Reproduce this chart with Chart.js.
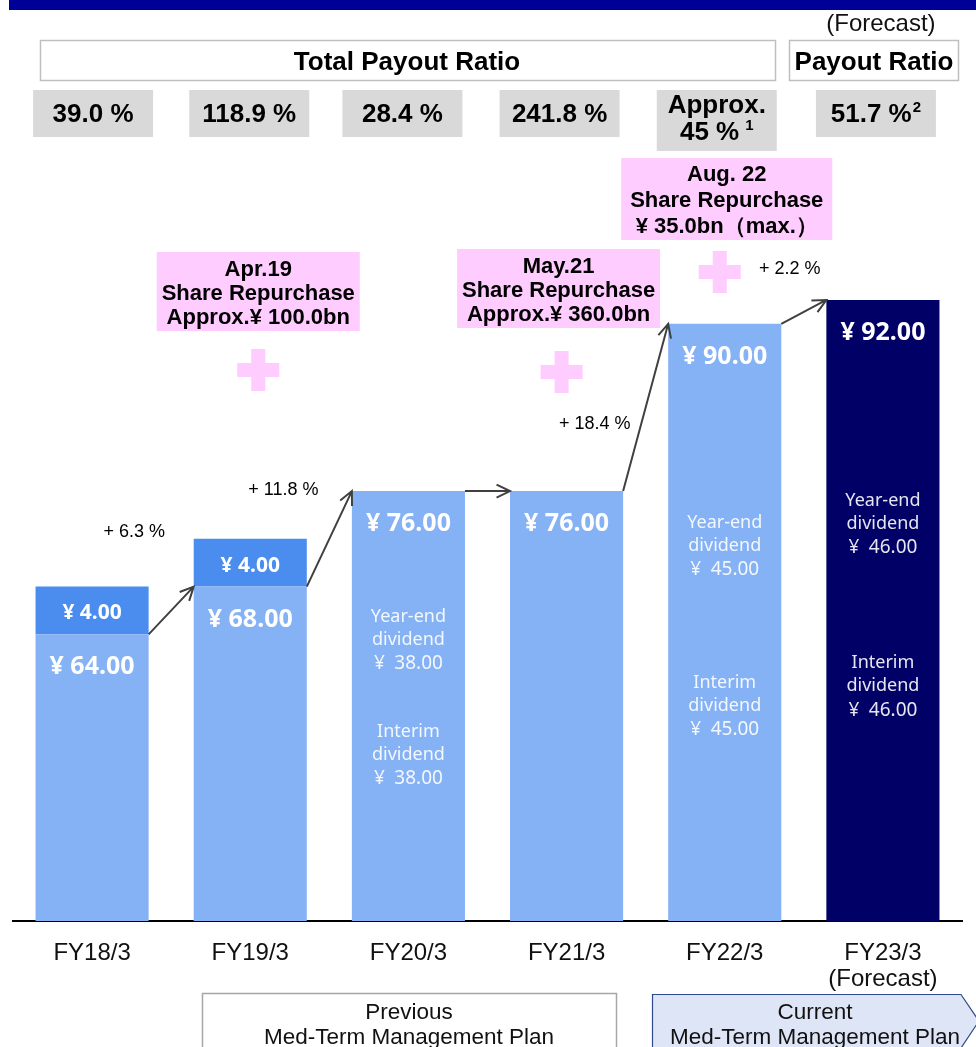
<!DOCTYPE html>
<html>
<head>
<meta charset="utf-8">
<script src="https://cdn.jsdelivr.net/npm/chart.js@4.4.0/dist/chart.umd.min.js"></script>
<style>
html, body { margin: 0; padding: 0; background: #fff; overflow: hidden; }
canvas { display: block; }
</style>
</head>
<body>
<canvas id="my_Chart" width="976" height="1047"></canvas>
<script>
// data
var Labels = ['FY18/3', 'FY19/3', 'FY20/3', 'FY21/3', 'FY22/3', ['FY23/3', '(Forecast)']];
var Ordinary = [64, 68, 76, 76, 90, 92];
var Commemorative = [4, 4, 0, 0, 0, 0];
var YearEnd = [null, null, 38, null, 45, 46];
var Interim = [null, null, 38, null, 45, 46];
var PayoutRatio = [39.0, 118.9, 28.4, 241.8, 45, 51.7];
var Growth = [6.3, 11.8, 0, 18.4, 2.2];
var RepurchaseYear = [1, 3, 4];
var RepurchaseDate = ['Apr.19', 'May.21', 'Aug. 22'];
var RepurchaseAmount = ['Approx.\u00a5 100.0bn', 'Approx.\u00a5 360.0bn', '\u00a5 35.0bn\uff08max.\uff09'];

// colours
var LIGHT = '#85B1F5';
var MID = '#4A8DEE';
var NAVY = '#000066';
var PINK = '#FFCCFF';
var barColors = [LIGHT, LIGHT, LIGHT, LIGHT, LIGHT, NAVY];

var ARIAL = "'Liberation Sans', Arial, sans-serif";
var ROUND = "'Noto Sans', 'Liberation Sans', sans-serif";

// where the annotations sit (layout, not data)
var ratioShift = [1, -1, -6, -7, -8, -7];
var yearEndAt = [null, null, 63.8, null, 71.7, 73.5];
var interimAt = [null, null, 54.2, null, 58.3, 59.9];
var growthOffset = [[-37, -80], [-46, -51], null, [-51, 15], [-14, -45]];
var repBoxes = [
	{dx: 8, top: 252, w: 203, h: 79, plusDx: 8, plusY: 370},
	{dx: -8, top: 249, w: 203, h: 79, plusDx: -5, plusY: 372},
	{dx: 2, top: 158, w: 211, h: 82, plusDx: -5, plusY: 272}
];

function txt(ctx, s, x, y, font, color, align) {
	ctx.font = font;
	ctx.fillStyle = color || '#000';
	ctx.textAlign = align || 'center';
	ctx.textBaseline = 'middle';
	// fonts sit a bit high with a middle baseline
	ctx.fillText(s, x, y + (font.indexOf('Noto') >= 0 ? 3 : 2));
}

// text followed by a small raised footnote number, centred as a whole
function supTxt(ctx, s, sup, gap, x, y) {
	var big = 'bold 26px ' + ARIAL, small = 'bold 15px ' + ARIAL;
	ctx.font = big;
	var w1 = ctx.measureText(s).width;
	ctx.font = small;
	var w2 = ctx.measureText(sup).width;
	var left = x - (w1 + gap + w2) / 2;
	txt(ctx, s, left, y, big, '#000', 'left');
	txt(ctx, sup, left + w1 + gap, y - 7, small, '#000', 'left');
}

function arrow(ctx, x1, y1, x2, y2) {
	var a = Math.atan2(y2 - y1, x2 - x1), L = 15, sp = 0.45;
	ctx.strokeStyle = '#404040';
	ctx.lineWidth = 2;
	ctx.beginPath();
	ctx.moveTo(x1, y1);
	ctx.lineTo(x2, y2);
	ctx.moveTo(x2 - L * Math.cos(a - sp), y2 - L * Math.sin(a - sp));
	ctx.lineTo(x2, y2);
	ctx.lineTo(x2 - L * Math.cos(a + sp), y2 - L * Math.sin(a + sp));
	ctx.stroke();
}

function plus(ctx, x, y) {
	ctx.fillStyle = PINK;
	ctx.fillRect(x - 21, y - 7, 42, 14);
	ctx.fillRect(x - 7, y - 21, 14, 42);
}

var annotations = {
	id: 'annotations',
	afterDatasetsDraw: function(chart) {
		var ctx = chart.ctx;
		var xs = chart.scales.x, ys = chart.scales.y;
		var base = chart.getDatasetMeta(0).data;
		var extra = chart.getDatasetMeta(1).data;
		var cx = Labels.map(function(l, i) { return xs.getPixelForValue(i); });
		ctx.save();

		// header band
		ctx.fillStyle = '#000099';
		ctx.fillRect(9, 0, 967, 10);

		txt(ctx, '(Forecast)', cx[5] - 2, 22, '24px ' + ARIAL, '#111');

		ctx.strokeStyle = '#BFBFBF';
		ctx.lineWidth = 1.5;
		ctx.strokeRect(40.5, 40.5, 735, 40);
		ctx.strokeRect(789.5, 40.5, 169, 40);
		txt(ctx, 'Total Payout Ratio', 407, 61, 'bold 26px ' + ARIAL);
		txt(ctx, 'Payout Ratio', 874, 61, 'bold 26px ' + ARIAL);

		// payout ratio boxes
		PayoutRatio.forEach(function(v, i) {
			var x = cx[i] + ratioShift[i];
			var h = i === 4 ? 61 : 47;
			ctx.fillStyle = '#D9D9D9';
			ctx.fillRect(x - 60, 90, 120, h);
			if (i === 4) {
				txt(ctx, 'Approx.', x, 104, 'bold 26px ' + ARIAL);
				supTxt(ctx, v + ' %', '1', 6, x, 131);
			} else if (i === 5) {
				supTxt(ctx, v.toFixed(1) + ' %', '2', 1, x, 113);
			} else {
				txt(ctx, v.toFixed(1) + ' %', x, 113, 'bold 26px ' + ARIAL);
			}
		});

		// share repurchase boxes
		RepurchaseYear.forEach(function(yi, k) {
			var b = repBoxes[k];
			var x = cx[yi] + b.dx;
			ctx.fillStyle = PINK;
			ctx.fillRect(x - b.w / 2, b.top, b.w, b.h);
			var mid = b.top + b.h / 2, step = k === 2 ? 26 : 24;
			var f = 'bold 22px ' + ARIAL;
			txt(ctx, RepurchaseDate[k], x, mid - step, f);
			txt(ctx, 'Share Repurchase', x, mid, f);
			txt(ctx, RepurchaseAmount[k], x, mid + step, f);
			plus(ctx, cx[yi] + b.plusDx, b.plusY);
		});

		// arrows and growth rates between ordinary dividend tops
		for (var i = 0; i < base.length - 1; i++) {
			var a = base[i], b2 = base[i + 1];
			var x1 = a.x + a.width / 2, x2 = b2.x - b2.width / 2;
			arrow(ctx, x1, a.y, x2, b2.y);
			if (Growth[i] > 0 && growthOffset[i]) {
				var mx = (x1 + x2) / 2, my = (a.y + b2.y) / 2;
				txt(ctx, '+ ' + Growth[i].toFixed(1) + ' %', mx + growthOffset[i][0], my + growthOffset[i][1], '18px ' + ARIAL, '#000');
			}
		}

		// labels inside bars
		base.forEach(function(el, i) {
			txt(ctx, '\u00a5 ' + Ordinary[i].toFixed(2), el.x, el.y + 30, 'bold 25px ' + ROUND, '#fff');
			if (Commemorative[i] > 0) {
				var e = extra[i];
				txt(ctx, '\u00a5 ' + Commemorative[i].toFixed(2), e.x, (e.y + e.base) / 2, 'bold 21px ' + ROUND, '#fff');
			}
			var sub = '18px ' + ROUND, num = '19px ' + ROUND, col = 'rgba(255,255,255,0.9)';
			if (YearEnd[i] != null) {
				var y1 = ys.getPixelForValue(yearEndAt[i]);
				txt(ctx, 'Year-end', el.x, y1 - 23, sub, col);
				txt(ctx, 'dividend', el.x, y1, sub, col);
				txt(ctx, '\u00a5\u2002' + YearEnd[i].toFixed(2), el.x, y1 + 24, num, col);
			}
			if (Interim[i] != null) {
				var y2 = ys.getPixelForValue(interimAt[i]);
				txt(ctx, 'Interim', el.x, y2 - 23, sub, col);
				txt(ctx, 'dividend', el.x, y2, sub, col);
				txt(ctx, '\u00a5\u2002' + Interim[i].toFixed(2), el.x, y2 + 24, num, col);
			}
		});

		// management plan boxes
		ctx.strokeStyle = '#A6A6A6';
		ctx.lineWidth = 1.5;
		ctx.strokeRect(202.5, 993.5, 414, 70);
		txt(ctx, 'Previous', 409, 1011, '22.5px ' + ARIAL, '#111');
		txt(ctx, 'Med-Term Management Plan', 409, 1036, '22.5px ' + ARIAL, '#111');

		ctx.beginPath();
		ctx.moveTo(652.5, 1060);
		ctx.lineTo(652.5, 994.5);
		ctx.lineTo(961, 994.5);
		ctx.lineTo(979, 1021);
		ctx.lineTo(961, 1048);
		ctx.lineTo(652.5, 1048);
		ctx.closePath();
		ctx.fillStyle = '#DDE5F6';
		ctx.fill();
		ctx.strokeStyle = '#2E4A8B';
		ctx.lineWidth = 1.2;
		ctx.stroke();
		txt(ctx, 'Current', 815, 1011, '22.5px ' + ARIAL, '#111');
		txt(ctx, 'Med-Term Management Plan', 815, 1036, '22.5px ' + ARIAL, '#111');

		ctx.restore();
	}
};

var ctx = document.getElementById('my_Chart').getContext('2d');
var myChart = new Chart(ctx, {
	type: 'bar',
	data: {
		labels: Labels,
		datasets: [
			{label: 'Ordinary dividend', data: Ordinary, backgroundColor: barColors},
			{label: 'Commemorative dividend', data: Commemorative, backgroundColor: MID}
		]
	},
	options: {
		responsive: false,
		animation: false,
		devicePixelRatio: 1,
		layout: {padding: {top: 85, left: 13, right: 14, bottom: 0}},
		datasets: {bar: {categoryPercentage: 1, barPercentage: 0.715}},
		plugins: {legend: {display: false}, tooltip: {enabled: false}},
		scales: {
			x: {
				stacked: true,
				grid: {display: false, drawTicks: false},
				border: {display: true, color: '#000', width: 2},
				ticks: {
					color: '#111',
					padding: 19,
					font: {family: ARIAL, size: 24, lineHeight: 1.1}
				},
				afterFit: function(scale) { scale.height = 126; }
			},
			y: {
				stacked: true,
				display: false,
				min: 40,
				max: 110
			}
		}
	},
	plugins: [annotations]
});
</script>
</body>
</html>
